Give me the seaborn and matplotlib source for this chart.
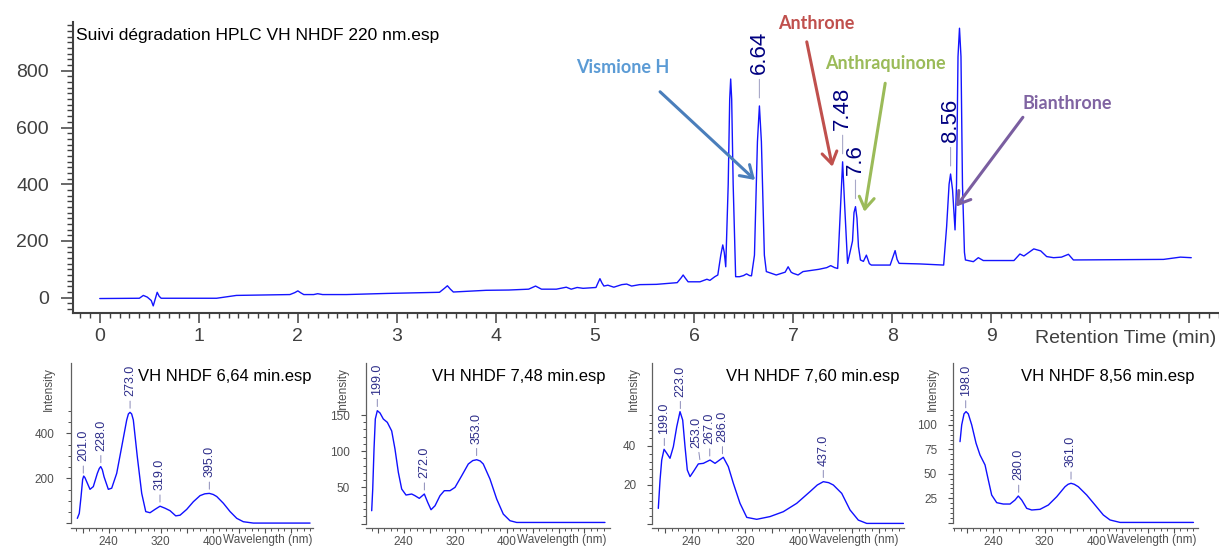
import numpy as np
import pandas as pd
import matplotlib
matplotlib.use("Agg")
import matplotlib.pyplot as plt
import matplotlib.ticker as mticker
import seaborn as sns

# ------------------------------
# Chromatogram at 220 nm
# ------------------------------
rt_min = [0.00, 0.40, 0.44, 0.48, 0.52, 0.54, 0.56, 0.58, 0.60, 0.62, 1.18, 1.38,
          1.92, 1.97, 2.00, 2.03, 2.06, 2.16, 2.20, 2.25, 2.49, 2.90,
          3.43, 3.48, 3.51, 3.54, 3.57, 3.90, 4.13, 4.33, 4.40, 4.46, 4.61, 4.71, 4.76,
          4.82, 4.88, 5.01, 5.03, 5.05, 5.07, 5.09, 5.13, 5.19, 5.27, 5.32, 5.37, 5.45,
          5.62, 5.83, 5.87, 5.89, 5.91, 5.94, 6.06, 6.13, 6.16, 6.21, 6.24, 6.27, 6.29,
          6.305, 6.32, 6.345, 6.36, 6.37, 6.38, 6.395, 6.42, 6.46, 6.50, 6.53, 6.56,
          6.58, 6.61, 6.64, 6.66, 6.68, 6.71, 6.73, 6.83, 6.92, 6.95, 6.98, 7.00, 7.05,
          7.10, 7.26, 7.34, 7.38, 7.42, 7.45, 7.48, 7.50, 7.52, 7.55, 7.60, 7.615, 7.63,
          7.645, 7.66, 7.68, 7.71, 7.74, 7.77, 7.79, 7.98, 8.00, 8.03, 8.05, 8.07, 8.28,
          8.52, 8.55, 8.575, 8.59, 8.61, 8.635, 8.65, 8.665, 8.68, 8.695, 8.71, 8.73,
          8.74, 8.82, 8.87, 8.92, 9.23, 9.29, 9.33, 9.43, 9.50, 9.56, 9.63, 9.71, 9.78,
          9.83, 10.74, 10.91, 11.02]
signal = [-3, -2, 8, 2, -10, -29, -5, 19, 5, -2, -2, 8,
          11, 18, 24, 17, 11, 11, 14, 11, 11, 15,
          19, 33, 42, 30, 20, 26, 27, 30, 41, 30, 30, 37, 30,
          36, 33, 36, 52, 67, 52, 41, 44, 37, 46, 48, 41, 46,
          47, 53, 70, 80, 70, 56, 56, 65, 61, 74, 80, 150, 186,
          160, 109, 400, 700, 771, 700, 400, 74, 74, 78, 84, 78,
          77, 150, 550, 676, 550, 150, 92, 80, 90, 109, 90, 86, 80,
          92, 100, 106, 113, 106, 103, 330, 479, 330, 121, 200, 300, 321,
          280, 180, 133, 128, 150, 120, 115, 115, 135, 166, 135, 121, 119,
          115, 250, 400, 436, 380, 239, 400, 850, 950, 850, 400, 160,
          133, 127, 141, 131, 131, 154, 147, 172, 165, 145, 141, 143, 153,
          133, 135, 143, 141]

peak_labels = ["6.64", "7.48", "7.6", "8.56"]
peak_times = [6.66, 7.50, 7.63, 8.59]

callout_names = ["Vismione H", "Anthrone", "Anthraquinone", "Bianthrone"]
callout_text_colors = ["#5b9bd5", "#c0504d", "#9bbb59", "#8064a2"]
callout_arrow_colors = ["#4a7ebb", "#c0504d", "#9bbb59", "#7a5ea0"]
callout_text_xy = [(5.28, 810), (7.23, 967), (7.93, 826), (9.77, 685)]
callout_tail = [(5.657, 726), (7.138, 902), (7.93, 756), (9.32, 636)]
callout_head = [(6.616, 415), (7.397, 462), (7.72, 303), (8.646, 321)]

# ------------------------------
# UV spectra of the labelled peaks
# ------------------------------
wl_664 = [191.8, 194.8, 197.5, 200.0, 201.6, 203.5, 206.2, 211.3, 216.4, 222.6, 225.5,
          227.8, 230.3, 232.9, 239.5, 244.7, 252.4, 260.1, 267.8, 270.4, 272.9, 275.4,
          278.0, 284.1, 290.9, 297.1, 303.7, 311.4, 319.1, 326.8, 334.5, 343.3, 349.9,
          360.2, 370.4, 380.7, 388.0, 395.0, 401.0, 406.4, 416.6, 426.9, 437.2, 447.3,
          462.7, 550.0]
ab_664 = [22, 44, 118, 195, 210, 203, 185, 151, 163, 222, 243,
          252, 238, 207, 151, 156, 222, 340, 459, 486, 493, 486,
          459, 296, 133, 52, 47, 62, 76, 67, 56, 33, 36,
          62, 96, 123, 131, 133, 128, 119, 89, 52, 22, 7,
          1, 1]
pk_664 = [201.0, 228.0, 273.0, 319.0, 395.0]

wl_748 = [190.3, 191.9, 193.9, 195.9, 199.0, 203.2, 208.3, 214.5, 221.3, 226.4, 231.6,
          236.8, 243.5, 252.3, 257.4, 264.1, 271.9, 277.1, 282.3, 288.5, 296.2, 302.9,
          311.7, 319.5, 329.9, 340.1, 347.0, 353.1, 358.5, 363.3, 373.7, 384.1, 394.3,
          404.7, 415.1, 552.0]
ab_748 = [17.7, 47.7, 103, 144.5, 156, 152.8, 144.5, 139.9, 128, 103, 70.8,
          47.7, 39.4, 40.8, 38.5, 34.8, 40.8, 29.3, 19.1, 24.6, 38.5, 45.4,
          45.4, 50, 66.1, 82.3, 87.0, 88.2, 86.5, 82.3, 61.5, 33.9, 13.1,
          3.9, 1.5, 1.5]
pk_748 = [199.0, 272.0, 353.0]

wl_760 = [190.0, 192.6, 195.1, 198.6, 202.6, 207.5, 212.5, 217.6, 222.5, 226.5, 230.0,
          233.4, 237.5, 242.4, 249.9, 257.4, 267.4, 274.9, 287.3, 294.8, 302.3, 312.3,
          322.4, 337.3, 357.2, 377.1, 397.2, 417.1, 428.0, 437.0, 445.0, 452.0, 464.6,
          477.0, 489.4, 502.0, 557.0]
ab_760 = [8, 22.6, 32.8, 38.3, 36.3, 33.7, 39.6, 49.9, 57.6, 53.3, 39.6,
          27.7, 24.3, 26.8, 30.8, 31.1, 32.8, 31.1, 34.2, 29.4, 20.9, 10.6,
          3.4, 2.4, 3.8, 6.3, 10.6, 16.6, 20.0, 21.7, 21.2, 20.0, 15.7,
          7.2, 2.0, 0.3, 0.3]
pk_760 = [199.0, 223.0, 253.0, 267.0, 286.0, 437.0]

wl_856 = [189.2, 191.8, 195.4, 198.5, 202.0, 207.3, 214.0, 220.1, 227.9, 233.0, 238.2,
          246.0, 256.2, 266.6, 274.3, 279.4, 284.7, 292.4, 300.2, 313.0, 325.9, 338.9,
          351.7, 356.5, 361.0, 366.0, 372.3, 385.3, 398.2, 411.0, 421.4, 436.9, 550.5]
ab_856 = [82.9, 100, 111.3, 113.6, 111.3, 100, 81.3, 69.3, 59.1, 43.7, 28.3,
          20.5, 19.1, 19.1, 23.2, 27.3, 23.2, 14.7, 13, 13.7, 18.1, 26.6,
          36.8, 39.3, 40.3, 39.3, 36.8, 28.3, 18.1, 7.9, 2.8, 0.3, 0.3]
pk_856 = [198.0, 280.0, 361.0]

spec_titles = ["VH NHDF 6,64 min.esp", "VH NHDF 7,48 min.esp",
               "VH NHDF 7,60 min.esp", "VH NHDF 8,56 min.esp"]
spec_wl = [wl_664, wl_748, wl_760, wl_856]
spec_ab = [ab_664, ab_748, ab_760, ab_856]
spec_pk = [pk_664, pk_748, pk_760, pk_856]
spec_yticks = [[0, 200, 400], [0, 50, 100, 150], [0, 20, 40], [0, 25, 50, 75, 100]]
spec_yminor = [(500, 50), (150, 10), (56, 4), (115, 5)]

# ------------------------------
# Figure / layout (pixel based)
# ------------------------------
sns.set_style("ticks")
plt.rcParams["font.family"] = ["Liberation Sans", "DejaVu Sans"]

W, H = 1219, 547
fig = plt.figure(figsize=(W / 100, H / 100), dpi=100)


def px_axes(left, top, right, bottom):
    return fig.add_axes([left / W, 1 - bottom / H, (right - left) / W, (bottom - top) / H])


# ------------------------------
# Main chromatogram
# ------------------------------
ax = px_axes(73, 22, 1219, 313)
chrom = pd.DataFrame({"rt": rt_min, "mAU": signal})
sns.lineplot(data=chrom, x="rt", y="mAU", ax=ax, color="#1414ff", linewidth=1.0, estimator=None)
ax.set_xlim(-0.27, 11.30)
ax.set_ylim(-54, 972)
ax.set_xlabel("")
ax.set_ylabel("")
sns.despine(ax=ax)
for s in ["left", "bottom"]:
    ax.spines[s].set_color("#404040")
    ax.spines[s].set_linewidth(1.5)

ax.xaxis.set_major_locator(mticker.MultipleLocator(1))
ax.xaxis.set_minor_locator(mticker.MultipleLocator(0.1))
ax.xaxis.set_major_formatter(mticker.FuncFormatter(lambda v, p: f"{v:.0f}" if -0.01 < v < 9.5 else ""))
ax.yaxis.set_major_locator(mticker.MultipleLocator(200))
ax.yaxis.set_minor_locator(mticker.MultipleLocator(20))
ax.tick_params(axis="x", which="major", length=7.2, width=1.1, pad=3.5, labelsize=14, colors="#404040")
ax.tick_params(axis="x", which="minor", length=3.6, width=1.0, colors="#404040")
ax.tick_params(axis="y", which="major", length=8.4, width=1.1, pad=9, labelsize=14, colors="#404040")
ax.tick_params(axis="y", which="minor", length=4.5, width=1.0, colors="#404040")

ax.text(0.0026, 0.952, "Suivi dégradation HPLC VH NHDF 220 nm.esp", transform=ax.transAxes,
        ha="left", va="center", fontsize=12.5, color="black")
ax.text(0.9974, -0.086, "Retention Time (min)", transform=ax.transAxes,
        ha="right", va="center", fontsize=14, color="#404040")

for lab, t in zip(peak_labels, peak_times):
    h = np.interp(t, rt_min, signal)
    ax.annotate(lab, xy=(t, h), xytext=(0, 23), textcoords="offset points", rotation=90,
                ha="center", va="bottom", fontsize=16, color="#000080",
                arrowprops=dict(arrowstyle="-", color="#a8a8c8", lw=0.8, shrinkA=1.5, shrinkB=5.8))

for name, tc, acol, txy, tail, head in zip(callout_names, callout_text_colors, callout_arrow_colors,
                                            callout_text_xy, callout_tail, callout_head):
    ax.text(txy[0], txy[1], name, color=tc, fontsize=13, fontweight="bold",
            family=["Lato", "DejaVu Sans"], ha="center", va="center")
    ax.annotate("", xy=head, xytext=tail,
                arrowprops=dict(arrowstyle="->,head_length=0.7,head_width=0.45", color=acol,
                                lw=2.2, mutation_scale=12, shrinkA=0, shrinkB=0))

# ------------------------------
# Spectra panels
# ------------------------------
s_left = [70.7, 365.7, 652.3, 953.3]
s_right = [313.3, 610, 904, 1198.3]
s_xlim = [(181.6, 555), (181, 559.8), (181, 557.8), (178.8, 558)]
s_ylim = [(-20, 711), (-5.9, 221.5), (-1.95, 82.4), (-5.2, 163)]
s_int_off = [-15.4, -16.1, -13, -14.4]
s_title_off = [-1.2, -3.6, -2.9, -2.4]

for i in range(4):
    sax = px_axes(s_left[i], 363.3, s_right[i], 527.8)
    sns.lineplot(x=spec_wl[i], y=spec_ab[i], ax=sax, color="#1010ff", linewidth=1.0, estimator=None)
    sax.set_xlim(*s_xlim[i])
    sax.set_ylim(*s_ylim[i])
    sax.set_xlabel("")
    sax.set_ylabel("")
    sns.despine(ax=sax)
    sax.spines["left"].set_bounds(0, s_ylim[i][1])
    for s in ["left", "bottom"]:
        sax.spines[s].set_color("#606060")
        sax.spines[s].set_linewidth(0.9)

    sax.xaxis.set_major_locator(mticker.MultipleLocator(40))
    sax.xaxis.set_minor_locator(mticker.MultipleLocator(10))
    sax.xaxis.set_major_formatter(mticker.FuncFormatter(
        lambda v, p: f"{v:.0f}" if round(v) in (240, 320, 400) else ""))
    sax.yaxis.set_major_locator(mticker.FixedLocator(spec_yticks[i]))
    top, step = spec_yminor[i]
    sax.yaxis.set_minor_locator(mticker.FixedLocator(np.arange(0, top + 0.1, step)))
    sax.yaxis.set_major_formatter(mticker.FuncFormatter(lambda v, p: "" if v == 0 else f"{v:.0f}"))
    sax.tick_params(axis="both", which="major", length=3.6, width=0.8, labelsize=8.5,
                    colors="#505050")
    sax.tick_params(axis="both", which="minor", length=2.2, width=0.7, colors="#505050")
    sax.tick_params(axis="y", which="major", pad=8)
    sax.tick_params(axis="x", which="major", pad=2)

    sax.annotate(spec_titles[i], xy=(1, 0.918), xycoords="axes fraction",
                 xytext=(s_title_off[i], 0), textcoords="offset points",
                 ha="right", va="center", fontsize=12, color="black")
    sax.annotate("Intensity", xy=(0, 0.844), xycoords="axes fraction",
                 xytext=(s_int_off[i], 0), textcoords="offset points", rotation=90,
                 ha="center", va="center", fontsize=8.5, color="#505050")
    sax.text(416, -0.074, "Wavelength (nm)", transform=sax.get_xaxis_transform(),
             ha="left", va="center", fontsize=8.5, color="#505050")

    for w in spec_pk[i]:
        h = np.interp(w, spec_wl[i], spec_ab[i])
        dx = -3 if w == 253.0 else 0
        sax.annotate(f"{w:.1f}", xy=(w, h), xytext=(dx, 11.5), textcoords="offset points",
                     rotation=90, ha="center", va="bottom", fontsize=9, color="#2e2e8a",
                     arrowprops=dict(arrowstyle="-", color="#8a8ab8", lw=0.7, shrinkA=1, shrinkB=3))

fig.savefig("out.png", dpi=100, facecolor="white")
